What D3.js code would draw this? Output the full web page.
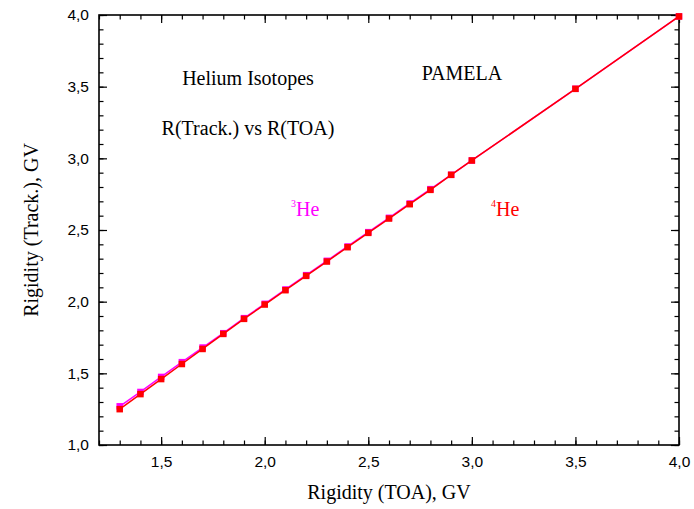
<!DOCTYPE html>
<html>
<head>
<meta charset="utf-8">
<script src="https://cdn.jsdelivr.net/npm/d3@7"></script>
<style>
  body { margin: 0; background: #fff; }
  svg text { fill: #000; }
</style>
</head>
<body>
<script>
// rigidity at top of atmosphere, GV
var rTOA = [1.3, 1.4, 1.5, 1.6, 1.7, 1.8, 1.9, 2.0, 2.1, 2.2, 2.3, 2.4, 2.5, 2.6, 2.7, 2.8, 2.9, 3.0, 3.5, 4.0];
// rigidity from tracker, GV
var he3Track = [1.27, 1.37, 1.475, 1.578, 1.68, 1.78, 1.885, 1.985, 2.085, 2.185, 2.285, 2.385, 2.485, 2.585, 2.685, 2.785, 2.885, 2.985, 3.485, 3.99];
var he4Track = [1.25, 1.355, 1.46, 1.565, 1.67, 1.775, 1.88, 1.98, 2.08, 2.18, 2.28, 2.38, 2.48, 2.58, 2.68, 2.78, 2.885, 2.985, 3.485, 3.99];

var xTicks = [1.5, 2.0, 2.5, 3.0, 3.5, 4.0];
var yTicks = [1.0, 1.5, 2.0, 2.5, 3.0, 3.5, 4.0];

var width = 694, height = 509;
var margin = {top: 15, right: 15, bottom: 64, left: 99};

var svg = d3.select("body").append("svg")
    .attr("width", width)
    .attr("height", height);

var x = d3.scaleLinear().domain([1.2, 4.0]).range([margin.left, width - margin.right]);
var y = d3.scaleLinear().domain([1.0, 4.0]).range([height - margin.bottom, margin.top]);

var fmt = function(d) { return d3.format(".1f")(d).replace(".", ","); };
var minorX = d3.range(12, 41).map(function(d) { return d / 10; });
var minorY = d3.range(10, 41).map(function(d) { return d / 10; });

// ticks point inwards on all four sides
function drawAxis(axis, pos, len) {
  var g = svg.append("g").attr("transform", pos);
  g.call(axis.tickSize(len));
  g.select(".domain").remove();
  g.selectAll("line").attr("stroke", "#000").attr("stroke-width", 1.2);
  return g;
}

var xb = height - margin.bottom, xt = margin.top;
var yl = margin.left, yr = width - margin.right;

drawAxis(d3.axisBottom(x).tickValues(minorX).tickFormat(""), "translate(0," + xb + ")", -4.5);
drawAxis(d3.axisTop(x).tickValues(minorX).tickFormat(""), "translate(0," + xt + ")", -4.5);
drawAxis(d3.axisLeft(y).tickValues(minorY).tickFormat(""), "translate(" + yl + ",0)", -4.5);
drawAxis(d3.axisRight(y).tickValues(minorY).tickFormat(""), "translate(" + yr + ",0)", -4.5);

var gxb = drawAxis(d3.axisBottom(x).tickValues(xTicks).tickFormat(fmt).tickPadding(11), "translate(0," + xb + ")", -8);
drawAxis(d3.axisTop(x).tickValues(xTicks).tickFormat(""), "translate(0," + xt + ")", -8);
var gyl = drawAxis(d3.axisLeft(y).tickValues(yTicks).tickFormat(fmt).tickPadding(10), "translate(" + yl + ",0)", -8);
drawAxis(d3.axisRight(y).tickValues(yTicks).tickFormat(""), "translate(" + yr + ",0)", -8);

[gxb, gyl].forEach(function(g) {
  g.selectAll("text")
    .attr("font-family", "Liberation Sans, Arial, sans-serif")
    .attr("font-size", 15.5)
    .attr("fill", "#222");
});

// frame
svg.append("rect")
    .attr("x", yl).attr("y", xt)
    .attr("width", yr - yl).attr("height", xb - xt)
    .attr("fill", "none").attr("stroke", "#000").attr("stroke-width", 1.6);

// series
var series = [
  {name: "3He", values: he3Track, color: "#ff00ff"},
  {name: "4He", values: he4Track, color: "#ff0000"}
];

var line = d3.line()
    .x(function(d) { return x(d[0]); })
    .y(function(d) { return y(d[1]); });

series.forEach(function(s) {
  var pts = rTOA.map(function(r, i) { return [r, s.values[i]]; });
  svg.append("path")
      .datum(pts)
      .attr("d", line)
      .attr("fill", "none")
      .attr("stroke", s.color)
      .attr("stroke-width", 1.5);
  svg.selectAll(null)
      .data(pts)
      .enter().append("rect")
      .attr("x", function(d) { return x(d[0]) - 3.25; })
      .attr("y", function(d) { return y(d[1]) - 3.25; })
      .attr("width", 6.5).attr("height", 6.5)
      .attr("fill", s.color);
});

var serif = "Liberation Serif, Times New Roman, serif";

function label(txt, cx, cy, size, color, anchor) {
  return svg.append("text")
      .attr("x", cx).attr("y", cy)
      .attr("text-anchor", anchor || "middle")
      .attr("font-family", serif)
      .attr("font-size", size)
      .style("fill", color || "#000")
      .text(txt);
}

label("Helium Isotopes", 248, 85, 20);
label("R(Track.) vs R(TOA)", 248, 135, 20);
label("PAMELA", 462, 80, 20);

function isotope(mass, cx, cy, color) {
  var t = svg.append("text")
      .attr("x", cx).attr("y", cy)
      .attr("font-family", serif)
      .style("fill", color);
  t.append("tspan").attr("font-size", 10).attr("dy", -9).text(mass);
  t.append("tspan").attr("font-size", 20).attr("dy", 9).text("He");
}
isotope("3", 291, 216, "#ff00ff");
isotope("4", 491, 216, "#ff0000");

label("Rigidity (TOA), GV", (yl + yr) / 2, 499, 20);
svg.append("text")
    .attr("transform", "translate(38," + ((xt + xb) / 2) + ") rotate(-90)")
    .attr("text-anchor", "middle")
    .attr("font-family", serif)
    .attr("font-size", 20)
    .text("Rigidity (Track.), GV");
</script>
</body>
</html>
